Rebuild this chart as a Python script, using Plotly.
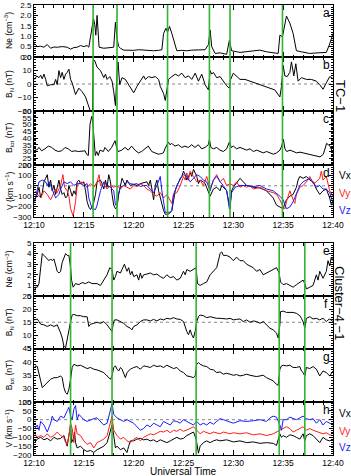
import plotly.graph_objects as go
import pandas as pd

W, H = 351, 476
BASE = pd.Timestamp("2004-01-01 12:10:00")

# ---------------- data (time in minutes after 12:10 UT, value) ----------------
tc1_boundaries = [5.93, 8.33, 13.40, 17.60, 19.67, 24.93]
cluster_boundaries = [3.67, 7.83, 16.27, 24.60, 27.17]

tc1_ne = [(0.05,0.65),(0.33,0.5),(0.67,0.52),(1.0,0.47),(1.33,0.6),(1.5,0.5),(1.67,0.42),(2.0,0.48),
          (2.33,0.47),(2.83,0.5),(3.33,0.47),(3.67,0.38),(4.0,0.45),(4.33,0.47),(4.67,0.55),(5.0,0.5),
          (5.33,0.55),(5.5,0.47),(5.73,1.2),(5.87,1.7),(5.97,1.85),(6.1,1.55),(6.2,1.05),(6.33,2.0),
          (6.43,1.0),(6.53,0.47),(7.0,0.42),(7.5,0.45),(8.0,0.47),(8.17,1.67),(8.33,0.88),(8.5,0.5),
          (8.67,0.42),(9.0,0.33),(9.5,0.32),(10.0,0.32),(10.5,0.35),(11.0,0.33),(11.5,0.3),(12.0,0.3),
          (12.5,0.32),(12.83,0.35),(13.0,1.13),(13.23,1.38),(13.4,1.2),(13.6,1.47),(13.83,1.13),
          (14.17,0.63),(14.33,0.3),(14.83,0.32),(15.33,0.3),(15.83,0.33),(16.67,0.35),(17.17,0.35),
          (17.5,0.6),(17.67,1.3),(17.83,0.5),(18.17,0.17),(18.67,0.2),(19.33,0.13),(19.6,0.8),
          (19.83,0.3),(20.67,0.22),(21.33,0.25),(22.0,0.3),(22.67,0.33),(23.33,0.25),(24.0,0.2),
          (24.5,0.17),(24.67,1.05),(24.93,0.97),(25.33,1.97),(25.67,1.63),(26.0,1.13),(26.33,0.3),
          (26.83,0.25),(27.67,0.17),(28.5,0.2),(29.33,0.22),(29.67,0.63),(30.0,1.13)]

tc1_bn = [(0.07,3.4),(0.27,6),(0.5,4.7),(0.67,6.5),(0.83,3.9),(1.0,7.3),(1.17,3.4),(1.33,-1.3),
          (1.67,-0.5),(2.0,-0.5),(2.17,3.4),(2.33,-0.5),(2.5,9.9),(2.67,4.7),(2.83,8.6),(3.0,3.4),
          (3.17,7.3),(3.33,8.6),(3.5,11),(3.67,3.4),(3.83,0.8),(4.0,-4.4),(4.17,-7.8),(4.5,-3.1),
          (4.83,-5.7),(5.17,-9.6),(5.4,-14.8),(5.67,-20.5),(5.87,-21),(5.93,16.4),(6.07,17.7),
          (6.33,12.5),(6.67,9.9),(7.0,4.7),(7.17,7.3),(7.33,3.4),(7.6,5.5),(7.83,2.1),(8.0,-5.7),
          (8.17,-16),(8.33,8.6),(8.43,16.4),(8.6,-0.5),(8.83,4.7),(9.17,3.4),(9.5,-0.5),(9.83,-4.4),
          (10.0,-6.5),(10.33,-1.8),(10.67,2.1),(11.0,6),(11.17,3.4),(11.5,5.5),(11.83,4.7),(12.17,5.5),
          (12.5,3.4),(12.67,-1.8),(13.0,-7),(13.17,-12.2),(13.33,-4.4),(13.5,3.4),(13.83,5.5),
          (14.17,7.3),(14.5,6),(14.83,8),(15.17,4.7),(15.5,6),(15.83,3.4),(16.17,8),(16.5,2.1),
          (16.83,7.3),(17.17,-0.5),(17.5,-4.4),(17.67,9.9),(17.83,7.3),(18.0,8.6),(18.33,4.7),
          (18.67,5.5),(19.0,2.1),(19.33,-1.3),(19.6,-3.1),(19.73,3.4),(20.0,8),(20.33,6),(20.67,3.4),
          (21.17,3.4),(21.67,2.1),(22.17,1.3),(22.67,-0.5),(23.17,-1.8),(23.67,-3.1),(24.17,-4.4),
          (24.67,-9.6),(24.83,-1.8),(25.0,13.8),(25.17,6),(25.4,5.5),(25.67,8.6),(25.83,16.4),
          (26.07,6),(26.27,15),(26.5,2.1),(26.83,4.7),(27.33,3.4),(27.83,3.4),(28.33,2.1),(28.67,-0.5),
          (29.0,-3.9),(29.33,0.8),(29.67,5.5),(30.0,4.0)]

tc1_btot = [(0.0,33),(0.27,31),(0.5,33),(0.77,30.5),(1.1,32),(1.44,34),(1.77,33),(2.11,31),(2.44,30),
            (2.78,30.5),(3.11,33),(3.44,32),(3.78,30),(4.11,30.5),(4.45,30),(4.78,30),(5.12,30.5),
            (5.28,28),(5.45,27),(5.62,50),(5.79,56),(5.9,52),(6.02,40),(6.15,27),(6.29,30),(6.45,27),
            (6.62,31),(6.96,30),(7.12,33),(7.29,31),(7.46,30),(7.79,33),(7.96,35),(8.13,38),(8.29,33),
            (8.46,30),(8.8,31),(9.13,33),(9.46,31),(9.8,34),(10.13,31),(10.47,29),(10.8,30),(11.14,32),
            (11.47,34),(11.81,30),(12.14,29),(12.47,28),(12.81,28.5),(12.98,29),(13.14,32),(13.31,35),
            (13.48,37),(13.65,35),(13.81,36),(14.15,34),(14.48,35),(14.82,33),(15.15,34),(15.48,33),
            (15.82,35),(16.15,33),(16.49,35),(16.82,32),(17.16,33),(17.49,35),(17.6,39),(17.75,33),
            (17.99,32),(18.33,33),(18.66,31),(19.0,30),(19.33,32),(19.6,37),(19.8,33),(20.0,34),
            (20.33,32),(20.67,33),(21.0,32),(21.34,31),(21.67,32),(22.01,30),(22.34,31),(22.68,30),
            (23.01,29),(23.34,30),(23.68,29),(24.01,28),(24.35,29),(24.68,31),(24.85,34),(25.02,39),
            (25.18,32),(25.35,30),(25.69,31),(26.02,30),(26.35,29),(26.69,29.5),(27.02,29),(27.36,28),
            (27.69,28),(28.03,27),(28.36,27),(28.7,26),(29.03,28),(29.2,33),(29.36,36),(29.53,35),
            (29.7,34),(29.87,31),(30.0,29)]

tc1_vx = [(0.07,-135),(0.33,-83),(0.5,-14),(0.67,-117),(0.83,-66),(1.0,38),(1.17,72),(1.33,107),(1.5,-14),
          (1.67,55),(1.83,-48),(2.0,3),(2.17,-83),(2.33,3),(2.5,55),(2.67,-31),(2.83,-83),(3.0,-66),
          (3.17,-117),(3.33,-100),(3.5,3),(3.67,-48),(3.83,-100),(4.0,-48),(4.17,-83),(4.33,38),(4.5,55),
          (4.67,21),(5.0,38),(5.17,-48),(5.33,-152),(5.5,-204),(5.67,-228),(5.93,-186),(6.17,-83),
          (6.33,38),(6.67,55),(6.83,21),(7.0,-31),(7.17,55),(7.33,-14),(7.5,107),(7.67,38),(7.83,-83),
          (8.0,-186),(8.17,-221),(8.33,-204),(8.5,-83),(8.67,3),(8.83,72),(9.0,38),(9.17,3),(9.33,55),
          (9.67,3),(10.0,14),(10.33,3),(10.67,21),(11.0,28),(11.33,38),(11.5,3),(11.67,55),(11.83,-31),
          (12.0,-135),(12.17,3),(12.33,55),(12.5,-48),(12.67,-117),(12.83,-186),(13.0,-238),(13.17,-273),
          (13.5,-273),(13.83,-238),(14.0,-117),(14.17,-48),(14.33,3),(14.67,55),(14.83,90),(15.0,141),
          (15.17,107),(15.33,55),(15.5,90),(15.67,124),(15.83,90),(16.0,159),(16.33,90),(16.5,21),
          (16.67,55),(17.0,38),(17.17,21),(17.5,-66),(17.67,-100),(18.0,-31),(18.33,-14),(18.67,-48),
          (18.83,3),(19.17,-31),(19.33,-48),(19.67,-221),(19.83,-48),(20.0,-14),(20.67,72),(21.0,38),
          (21.33,3),(22.0,-14),(22.67,-21),(23.33,-48),(23.67,-83),(24.0,-117),(24.33,-186),(24.67,-204),
          (25.0,-221),(25.17,-169),(25.33,-135),(25.67,-100),(26.0,-83),(26.33,-14),(26.5,55),(26.67,90),
          (27.0,72),(27.33,90),(27.67,55),(28.0,38),(28.33,-31),(28.67,-83),(29.0,-48),(29.33,-31),
          (29.67,-117),(29.83,-186),(30.0,-152)]

tc1_vy = [(0.07,-48),(0.33,-83),(0.67,-117),(1.0,-48),(1.33,-83),(1.67,-135),(1.93,-83),(2.17,-31),
          (2.33,-66),(2.67,3),(2.9,107),(3.07,-14),(3.33,-48),(3.5,-100),(3.67,-221),(3.93,-290),
          (4.17,-152),(4.33,3),(4.67,38),(5.0,21),(5.33,-14),(5.67,21),(6.0,-14),(6.33,38),(6.53,107),
          (6.67,3),(7.0,21),(7.33,-31),(7.67,3),(8.0,-14),(8.33,3),(8.67,-31),(9.0,3),(9.33,-14),
          (9.67,-31),(10.0,3),(10.33,-7),(10.67,14),(11.0,3),(11.33,-31),(11.67,-48),(12.0,-83),
          (12.33,-100),(12.67,-66),(13.0,-117),(13.33,-83),(13.67,-152),(13.83,-169),(14.0,-83),
          (14.33,-66),(14.67,3),(15.0,90),(15.17,55),(15.33,124),(15.5,55),(15.67,141),(16.0,90),
          (16.33,38),(16.67,55),(17.0,3),(17.33,90),(17.67,-31),(18.0,55),(18.33,107),(18.67,38),
          (19.0,72),(19.33,3),(19.67,21),(20.0,3),(20.33,38),(20.67,-14),(21.0,3),(21.33,-14),(21.67,3),
          (22.0,-31),(22.67,-14),(23.33,-48),(24.0,-66),(24.33,-83),(24.67,-135),(25.0,-204),
          (25.17,-221),(25.33,-152),(25.67,-48),(26.0,-135),(26.17,-169),(26.33,-83),(26.5,-48),
          (26.67,-14),(27.0,3),(27.33,38),(27.67,90),(28.0,21),(28.33,38),(28.67,72),(28.83,141),
          (29.0,55),(29.33,90),(29.67,-48),(30.0,-100)]

tc1_vz = [(0.07,-152),(0.17,-100),(0.33,-14),(0.5,38),(0.83,55),(1.17,38),(1.33,3),(1.5,38),(1.67,3),
          (2.0,-83),(2.17,-117),(2.5,-83),(2.67,-31),(3.0,38),(3.33,21),(3.67,38),(4.0,3),(4.33,21),
          (4.67,21),(5.0,3),(5.33,21),(5.5,-117),(5.67,-186),(5.83,-221),(6.17,-228),(6.33,-186),
          (6.67,-48),(7.0,38),(7.33,3),(7.67,-14),(8.0,-48),(8.17,-186),(8.33,-169),(8.5,-66),(8.67,-14),
          (9.0,3),(9.33,38),(9.67,21),(10.0,14),(10.33,21),(10.67,-7),(11.0,3),(11.33,3),(11.67,-31),
          (12.0,-66),(12.33,3),(12.67,90),(12.83,-48),(13.0,-152),(13.17,-255),(13.67,-255),(13.83,-238),
          (14.0,-83),(14.33,3),(14.67,72),(15.0,107),(15.33,90),(15.67,38),(16.0,72),(16.33,107),
          (16.67,90),(17.0,55),(17.33,38),(17.67,-48),(18.0,55),(18.33,90),(18.67,38),(19.0,3),
          (19.33,-48),(19.6,-221),(19.83,-66),(20.17,-14),(20.67,3),(21.33,3),(22.0,-7),(22.67,3),
          (23.33,-31),(24.0,-48),(24.67,-100),(25.0,-135),(25.33,-221),(25.67,-204),(26.0,-152),
          (26.33,-66),(26.67,3),(27.0,38),(27.33,55),(27.67,72),(28.0,38),(28.33,-14),(28.67,3),
          (29.0,-31),(29.33,-31),(29.67,-66),(30.0,-169)]

cl_ne = [(0.07,0.5),(0.17,0.83),(0.33,0.83),(0.5,1.17),(0.67,2.67),(0.83,4.0),(1.0,3.83),(1.17,3.67),
         (1.33,3.5),(1.5,3.33),(1.67,3.5),(1.83,3.33),(2.0,3.5),(2.17,3.0),(2.33,2.33),(2.5,2.17),
         (2.67,2.33),(2.83,3.17),(3.0,3.67),(3.17,4.0),(3.33,3.83),(3.5,3.83),(3.67,2.67),(3.77,1.5),
         (3.93,0.83),(4.17,1.17),(4.5,1.07),(4.83,1.27),(5.17,1.17),(5.5,1.33),(5.83,1.17),(6.33,1.17),
         (6.67,1.0),(7.0,1.5),(7.33,2.0),(7.6,2.67),(7.83,2.5),(8.0,1.5),(8.17,1.83),(8.33,2.33),
         (8.67,2.17),(8.83,2.5),(9.07,3.0),(9.33,2.33),(9.5,2.67),(9.67,2.0),(9.83,2.33),(10.0,1.83),
         (10.33,2.0),(10.5,1.5),(10.67,2.17),(10.83,1.67),(11.0,2.0),(11.33,2.07),(11.67,2.17),
         (12.0,2.0),(12.33,2.07),(12.67,1.83),(13.0,1.67),(13.33,2.0),(13.67,1.73),(14.0,1.83),
         (14.33,1.5),(14.67,1.67),(15.0,2.33),(15.17,2.0),(15.33,2.5),(15.67,2.33),(16.0,2.5),
         (16.27,2.67),(16.4,1.17),(16.67,1.0),(17.0,1.17),(17.33,1.33),(17.67,2.0),(18.0,2.33),
         (18.33,2.67),(18.67,4.0),(18.83,4.17),(19.0,3.83),(19.33,3.83),(19.67,3.67),(20.0,3.33),
         (20.33,3.67),(20.67,3.33),(21.0,3.33),(21.33,3.0),(21.67,2.83),(22.0,2.67),(22.33,2.33),
         (22.67,2.5),(23.0,2.0),(23.33,2.17),(23.67,2.33),(24.0,2.5),(24.33,2.67),(24.6,2.17),
         (24.73,1.33),(25.0,1.07),(25.33,1.17),(25.67,1.0),(26.0,0.83),(26.33,1.07),(26.67,1.27),
         (27.0,1.5),(27.17,1.17),(27.33,0.67),(27.67,0.83),(28.0,1.0),(28.33,2.0),(28.5,1.5),
         (28.67,2.33),(29.0,1.67),(29.33,2.33),(29.5,3.33),(29.67,2.83),(29.83,3.67),(30.0,3.33)]

cl_bn = [(0.07,15.9),(0.33,16.25),(0.5,15.25),(0.67,14.25),(1.0,14.0),(1.33,13.4),(1.67,14.0),(2.0,13.4),
         (2.33,14.0),(2.5,12.75),(2.67,10.9),(2.83,9.0),(3.0,5.9),(3.17,5.25),(3.33,9.0),(3.5,11.5),
         (3.67,15.25),(3.83,17.75),(4.0,18.0),(4.33,17.5),(4.67,17.5),(5.0,17.1),(5.33,17.1),(5.5,13.4),
         (5.67,14.25),(6.0,14.6),(6.33,15.0),(6.67,14.6),(7.0,15.25),(7.33,14.0),(7.67,12.1),(7.83,11.5),
         (7.93,14.0),(8.07,15.9),(8.33,15.9),(8.67,15.25),(9.0,14.6),(9.33,13.4),(9.67,12.75),(9.83,12.1),
         (10.0,13.4),(10.33,14.0),(10.67,15.25),(11.0,15.9),(11.33,15.9),(11.67,15.5),(12.0,16.1),
         (12.33,15.5),(12.67,16.25),(13.0,15.9),(13.33,16.5),(13.67,16.25),(14.0,16.75),(14.33,16.25),
         (14.67,16.1),(15.0,15.25),(15.17,12.75),(15.33,11.5),(15.5,10.25),(15.67,12.1),(15.83,10.25),
         (16.0,9.0),(16.17,11.5),(16.33,15.25),(16.5,17.1),(16.67,17.75),(17.0,17.5),(17.33,16.75),
         (17.67,17.1),(18.0,16.75),(18.33,16.5),(18.67,16.5),(19.0,16.25),(19.33,16.25),(19.67,16.5),
         (20.0,15.9),(20.33,16.1),(20.67,16.25),(21.0,15.25),(21.33,15.9),(21.67,15.0),(22.0,15.5),
         (22.33,15.25),(22.67,14.6),(23.0,15.25),(23.33,14.0),(23.67,12.75),(24.0,12.1),(24.33,10.9),
         (24.5,9.0),(24.67,14.0),(24.73,19.0),(25.0,19.25),(25.33,18.75),(25.67,18.75),(26.0,18.75),
         (26.33,18.4),(26.67,17.5),(26.83,16.5),(27.0,15.25),(27.17,12.75),(27.33,16.5),(27.67,17.1),
         (28.0,16.25),(28.33,16.5),(28.67,15.9),(29.0,16.5),(29.33,15.25),(29.5,15.9),(29.67,16.25),
         (30.0,15.25)]

cl_btot = [(0.07,37.9),(0.17,38.5),(0.33,38.25),(0.5,36.0),(0.67,32.9),(0.83,30.4),(1.0,31.0),(1.33,32.25),
           (1.67,33.5),(2.0,34.1),(2.33,34.1),(2.67,34.75),(2.83,34.1),(3.0,30.4),(3.17,28.5),(3.33,27.9),
           (3.5,29.75),(3.67,33.5),(3.83,37.9),(4.0,39.1),(4.33,38.5),(4.67,38.75),(5.0,38.25),(5.33,37.5),
           (5.67,37.9),(6.0,37.25),(6.33,37.0),(6.67,36.6),(7.0,36.0),(7.33,34.75),(7.67,33.5),(7.83,34.75),
           (8.0,37.9),(8.17,38.5),(8.33,37.25),(8.5,36.6),(8.67,37.9),(8.83,37.25),(9.0,35.4),(9.17,34.1),
           (9.33,36.0),(9.67,37.25),(10.0,37.9),(10.33,38.25),(10.67,37.25),(11.0,38.5),(11.33,38.25),
           (11.67,37.9),(12.0,38.75),(12.33,38.25),(12.67,38.5),(13.0,37.9),(13.33,38.75),(13.67,38.25),
           (14.0,37.5),(14.33,37.9),(14.67,36.6),(15.0,36.0),(15.33,34.75),(15.67,34.5),(16.0,34.1),
           (16.17,34.75),(16.33,39.1),(16.5,39.75),(16.67,39.1),(17.0,38.5),(17.33,38.25),(17.67,37.25),
           (18.0,37.0),(18.33,36.0),(18.67,36.25),(19.0,35.4),(19.33,35.75),(19.67,35.4),(20.0,35.0),
           (20.33,35.25),(20.67,34.75),(21.0,35.0),(21.33,35.4),(21.67,35.0),(22.0,34.75),(22.33,34.5),
           (22.67,34.75),(23.0,35.0),(23.33,34.1),(23.67,33.5),(24.0,32.9),(24.33,31.6),(24.5,31.25),
           (24.67,37.25),(24.83,38.5),(25.0,38.75),(25.33,38.5),(25.67,38.75),(26.0,37.9),(26.33,37.9),
           (26.67,38.25),(26.83,36.6),(27.0,36.0),(27.17,34.75),(27.33,37.9),(27.67,37.5),(28.0,38.25),
           (28.33,37.25),(28.67,34.75),(29.0,36.6),(29.33,36.0),(29.67,34.75),(30.0,36.6)]

cl_vx = [(0.07,-130),(0.33,-110),(0.67,-100),(1.0,-114),(1.33,-106),(1.67,-120),(2.0,-100),(2.33,-110),
         (2.67,-106),(3.0,-90),(3.17,-120),(3.33,-150),(3.5,-90),(3.67,-30),(3.77,-130),(3.93,-110),
         (4.07,-70),(4.17,-130),(4.33,-160),(4.67,-150),(5.0,-170),(5.33,-180),(5.67,-174),(6.0,-186),
         (6.33,-170),(6.67,-160),(7.0,-150),(7.33,-130),(7.67,-50),(7.83,-30),(8.0,-90),(8.17,-160),
         (8.33,-150),(8.67,-170),(9.0,-160),(9.33,-186),(9.5,-150),(9.67,-120),(10.0,-120),(10.33,-110),
         (10.67,-106),(11.0,-114),(11.33,-110),(11.67,-120),(12.0,-114),(12.33,-126),(12.67,-114),
         (13.0,-120),(13.33,-130),(13.67,-120),(14.0,-110),(14.33,-100),(14.67,-110),(15.0,-106),
         (15.33,-90),(15.67,-80),(16.0,-70),(16.27,-110),(16.5,-190),(16.67,-150),(17.0,-130),
         (17.33,-120),(17.67,-130),(18.0,-120),(18.33,-114),(18.67,-120),(19.33,-114),(20.0,-126),
         (20.67,-120),(21.33,-130),(22.0,-126),(22.67,-134),(23.33,-130),(24.0,-134),(24.33,-146),
         (24.67,-80),(24.83,-100),(25.0,-90),(25.33,-100),(25.67,-86),(26.0,-90),(26.33,-100),
         (26.67,-110),(27.0,-80),(27.17,-120),(27.33,-90),(27.67,-80),(28.0,-90),(28.33,-110),
         (28.67,-130),(29.0,-100),(29.33,-114),(29.67,-120),(30.0,-110)]

cl_vy = [(0.07,-80),(0.33,-100),(0.67,-90),(1.0,-100),(1.33,-80),(1.67,-100),(2.0,-90),(2.33,-70),
         (2.67,-90),(3.0,-100),(3.17,-130),(3.33,-140),(3.5,-90),(3.67,-20),(3.83,-50),(4.0,-130),
         (4.17,-30),(4.33,-80),(4.67,-90),(5.0,-120),(5.33,-140),(5.67,-130),(6.0,-160),(6.33,-130),
         (6.67,-120),(7.0,-110),(7.33,-90),(7.67,-10),(7.83,20),(8.0,-60),(8.33,-90),(8.67,-110),
         (9.0,-100),(9.33,-120),(9.67,-130),(10.0,-110),(10.33,-100),(10.67,-120),(11.0,-100),
         (11.33,-90),(11.67,-80),(12.0,-86),(12.33,-74),(12.67,-66),(13.0,-70),(13.33,-60),(13.67,-74),
         (14.0,-60),(14.33,-66),(14.67,-54),(15.0,-66),(15.33,-60),(15.67,-50),(16.0,-40),(16.33,-60),
         (16.67,-80),(17.0,-66),(17.33,-74),(17.67,-80),(18.0,-70),(18.33,-74),(18.67,-80),(19.0,-70),
         (19.33,-74),(19.67,-80),(20.0,-74),(20.67,-80),(21.33,-74),(22.0,-86),(22.67,-80),(23.33,-90),
         (24.0,-80),(24.33,-70),(24.67,-60),(25.0,-50),(25.33,-40),(25.67,-50),(26.0,-70),(26.33,-60),
         (26.67,-50),(27.0,-40),(27.33,-60),(27.67,-50),(28.0,-60),(28.33,-66),(28.67,-74),(29.0,-80),
         (29.33,-74),(29.67,-86),(30.0,-90)]

cl_vz = [(0.07,-50),(0.33,-30),(0.5,-60),(0.67,-10),(1.0,-30),(1.33,-70),(1.67,-20),(1.83,20),(2.0,0),
         (2.33,-10),(2.67,20),(3.0,10),(3.33,50),(3.5,70),(3.67,20),(3.83,0),(4.0,60),(4.17,80),(4.33,0),
         (4.5,30),(4.67,20),(5.0,0),(5.33,-10),(5.67,0),(6.0,6),(6.33,10),(6.67,-10),(7.0,-30),(7.33,-20),
         (7.67,50),(7.83,90),(8.0,30),(8.33,10),(8.67,0),(9.0,-10),(9.33,0),(9.67,-10),(10.0,-20),
         (10.33,-40),(10.67,-60),(11.0,-50),(11.33,-30),(11.67,-40),(12.0,-20),(12.33,-30),(12.67,-40),
         (13.0,-10),(13.33,-20),(13.67,-30),(14.0,-6),(14.33,-10),(14.67,-20),(15.0,0),(15.33,-10),
         (15.67,-20),(16.0,-30),(16.33,-10),(16.67,-30),(17.0,-20),(17.33,-30),(17.67,-14),(18.0,-26),
         (18.33,-10),(18.67,6),(19.0,0),(19.33,-6),(19.67,-10),(20.0,-20),(20.67,-6),(21.33,-10),
         (22.0,-6),(22.67,0),(23.33,-10),(23.67,10),(24.0,20),(24.33,14),(24.67,-30),(24.83,-60),
         (25.0,0),(25.33,0),(25.67,14),(26.0,6),(26.33,0),(26.67,10),(27.0,20),(27.33,6),(27.67,0),
         (28.0,6),(28.33,-20),(28.67,0),(29.0,-30),(29.33,-10),(29.67,-20),(30.0,-30)]

time_tick_text_fmt = "%H:%M"

# ---------------- figure ----------------
BLACK, RED, BLUE, GREEN = "#000000", "#ff1a1a", "#1a1aff", "#2fb52f"
FONT = "Liberation Sans"

panels = [
    dict(series=[(tc1_ne, BLACK)], top=5, bot=57, rng=[0, 2.5], dtick=0.5, minor=0.1, fmt=".1f",
         title="Ne (cm<sup>−3</sup>)", letter="a", ref=None),
    dict(series=[(tc1_bn, BLACK)], top=57, bot=111, rng=[-20, 20], dtick=10, minor=2, fmt="d",
         title="B<sub>N</sub> (nT)", letter="b", ref=0),
    dict(series=[(tc1_btot, BLACK)], top=111, bot=165, rng=[20, 60], dtick=5, minor=1, fmt="d",
         title="B<sub>tot</sub> (nT)", letter="c", ref=None),
    dict(series=[(tc1_vx, BLACK), (tc1_vy, RED), (tc1_vz, BLUE)], top=165, bot=217, rng=[-300, 200],
         dtick=100, minor=20, fmt="d", title="V (km s<sup>−1</sup>)", letter="d", ref=0),
    dict(series=[(cl_ne, BLACK)], top=243, bot=296, rng=[0, 5], dtick=1, minor=0.2, fmt="d",
         title="Ne (cm<sup>−3</sup>)", letter="e", ref=None),
    dict(series=[(cl_bn, BLACK)], top=296, bot=348.5, rng=[5, 25], dtick=5, minor=1, fmt="d",
         title="B<sub>N</sub> (nT)", letter="f", ref=15),
    dict(series=[(cl_btot, BLACK)], top=348.5, bot=402, rng=[25, 45], dtick=5, minor=1, fmt="d",
         title="B<sub>tot</sub> (nT)", letter="g", ref=None),
    dict(series=[(cl_vx, BLACK), (cl_vy, RED), (cl_vz, BLUE)], top=402, bot=455, rng=[-200, 100],
         dtick=50, minor=10, fmt="d", title="V (km s<sup>−1</sup>)", letter="h", ref=0),
]


def fy(px):
    return 1 - px / H


def to_time(mins):
    return [BASE + pd.Timedelta(minutes=m) for m in mins]


X0, X1 = 34 / W, 333 / W
t_start, t_end = BASE, BASE + pd.Timedelta(minutes=30)

fig = go.Figure()
layout = {}
annotations = []
shapes = []

for i, p in enumerate(panels):
    n = i + 1
    sfx = "" if n == 1 else str(n)
    for data, color in p["series"]:
        ts, vs = zip(*data)
        fig.add_trace(go.Scatter(x=to_time(ts), y=list(vs), mode="lines",
                                 line=dict(color=color, width=1), xaxis="x" + sfx, yaxis="y" + sfx,
                                 showlegend=False, hoverinfo="skip"))
    show_xlabels = n in (4, 8)
    layout["xaxis" + sfx] = dict(
        domain=[X0, X1], anchor="y" + sfx, range=[t_start, t_end], type="date", automargin=False,
        tick0=t_start, dtick=5 * 60 * 1000, tickformat=time_tick_text_fmt,
        showticklabels=show_xlabels, ticks="inside", ticklen=5, tickcolor="black", tickwidth=1,
        minor=dict(ticks="inside", ticklen=2.5, dtick=60 * 1000, tick0=t_start, tickcolor="black"),
        showline=True, linecolor="black", linewidth=1, mirror="allticks", showgrid=False,
        zeroline=False, tickfont=dict(family=FONT, size=8.5, color="black"),
    )
    layout["yaxis" + sfx] = dict(
        domain=[fy(p["bot"]), fy(p["top"])], anchor="x" + sfx, range=p["rng"], automargin=False,
        tick0=p["rng"][0], dtick=p["dtick"], tickformat=p["fmt"],
        ticks="inside", ticklen=4, tickcolor="black", tickwidth=1,
        minor=dict(ticks="inside", ticklen=2, dtick=p["minor"], tick0=p["rng"][0], tickcolor="black"),
        showline=True, linecolor="black", linewidth=1, mirror="allticks", showgrid=False,
        zeroline=False, tickfont=dict(family=FONT, size=8, color="black"),
    )
    if p["ref"] is not None:
        shapes.append(dict(type="line", xref="x" + sfx, yref="y" + sfx, x0=t_start, x1=t_end,
                           y0=p["ref"], y1=p["ref"], line=dict(color="#888888", width=1, dash="dot"),
                           layer="below"))
    ymid = fy((p["top"] + p["bot"]) / 2)
    annotations.append(dict(text=p["title"], x=9 / W, y=ymid, xref="paper", yref="paper",
                            textangle=-90, showarrow=False, xanchor="center", yanchor="middle",
                            font=dict(family=FONT, size=8.5, color="black")))
    annotations.append(dict(text=p["letter"], x=326 / W, y=fy(p["top"] + 8), xref="paper",
                            yref="paper", showarrow=False, xanchor="center", yanchor="middle",
                            font=dict(family=FONT, size=12, color="black")))

for b in tc1_boundaries:
    tb = BASE + pd.Timedelta(minutes=b)
    shapes.append(dict(type="line", xref="x", yref="paper", x0=tb, x1=tb, y0=fy(217), y1=fy(5),
                       line=dict(color=GREEN, width=1.6)))
for b in cluster_boundaries:
    tb = BASE + pd.Timedelta(minutes=b)
    shapes.append(dict(type="line", xref="x5", yref="paper", x0=tb, x1=tb, y0=fy(455), y1=fy(243),
                       line=dict(color=GREEN, width=1.6)))

# component labels
for ys in [(175, 193, 210), (413, 431, 447)]:
    for txt, col, yy in zip(["Vx", "Vy", "Vz"], [BLACK, RED, BLUE], ys):
        annotations.append(dict(text=txt, x=337 / W, y=fy(yy), xref="paper", yref="paper",
                                showarrow=False, xanchor="left", yanchor="middle",
                                font=dict(family=FONT, size=10, color=col)))

annotations.append(dict(text="TC−1", x=340 / W, y=fy(96), xref="paper", yref="paper",
                        textangle=90, showarrow=False, xanchor="center", yanchor="middle",
                        font=dict(family=FONT, size=13, color="black")))
annotations.append(dict(text="Cluster−4,−1", x=340 / W, y=fy(303), xref="paper", yref="paper",
                        textangle=90, showarrow=False, xanchor="center", yanchor="middle",
                        font=dict(family=FONT, size=13, color="black")))
annotations.append(dict(text="Universal Time", x=183 / W, y=fy(471), xref="paper", yref="paper",
                        showarrow=False, xanchor="center", yanchor="middle",
                        font=dict(family=FONT, size=10, color="black")))

fig.update_layout(**layout)
fig.update_layout(template="none", width=W, height=H, margin=dict(l=0, r=0, t=0, b=0, pad=0),
                  paper_bgcolor="white", plot_bgcolor="white", annotations=annotations,
                  shapes=shapes, showlegend=False)

fig.write_html("out.html")
